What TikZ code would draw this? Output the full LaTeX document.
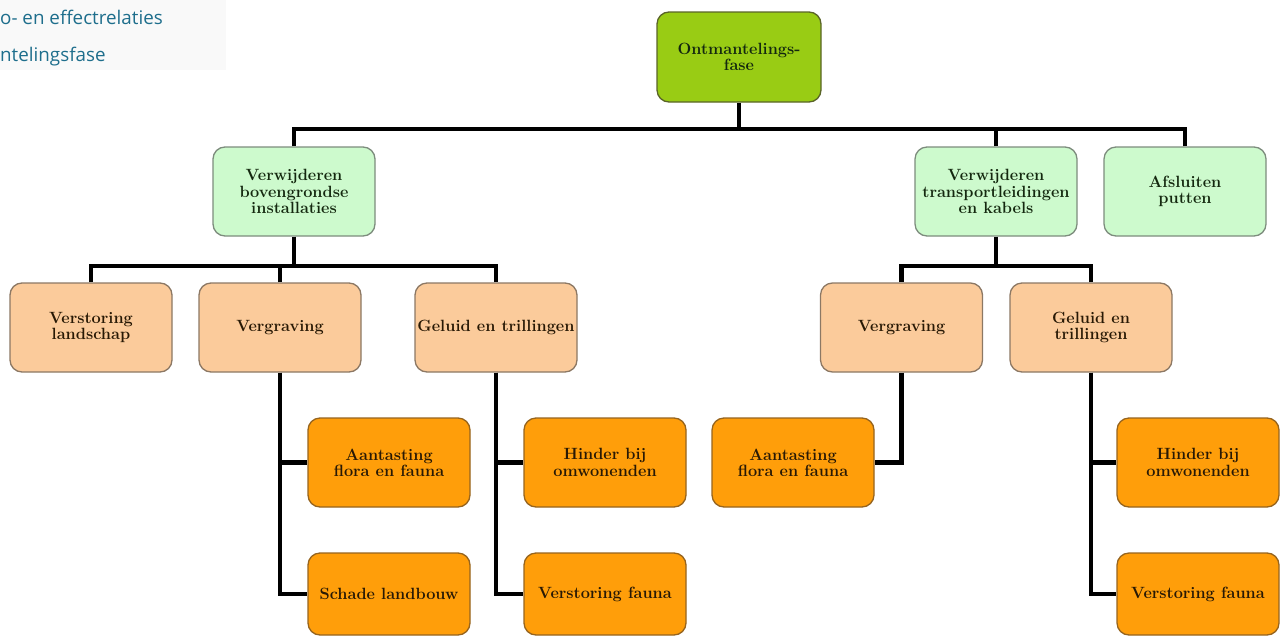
\documentclass[tikz,border=0pt]{standalone}
\usepackage{fontspec}
\newfontfamily\hdrfont{Open Sans}
\definecolor{topfill}{RGB}{153,204,20}
\definecolor{topdraw}{RGB}{90,100,40}
\definecolor{grfill}{RGB}{205,250,205}
\definecolor{grdraw}{RGB}{125,140,125}
\definecolor{pcfill}{RGB}{251,203,155}
\definecolor{pcdraw}{RGB}{140,120,100}
\definecolor{orfill}{RGB}{255,158,10}
\definecolor{ordraw}{RGB}{150,100,30}
\definecolor{txtdark}{RGB}{40,25,5}
\definecolor{txtgreen}{RGB}{20,40,15}
\definecolor{hdrcol}{RGB}{30,110,140}
\definecolor{hdrbg}{RGB}{249,249,249}
\tikzset{
  box/.style={rectangle, rounded corners=12pt, line width=1.3pt, align=center,
    minimum width=162pt, minimum height=89pt, inner sep=2pt,
    font=\bfseries\fontsize{16.3}{16.3}\selectfont},
  topbox/.style={box, fill=topfill, draw=topdraw, minimum width=164pt, minimum height=90pt, text=txtgreen},
  lvltwo/.style={box, fill=grfill, draw=grdraw, text=txtgreen},
  lvlthree/.style={box, fill=pcfill, draw=pcdraw, text=txtdark},
  lvlfour/.style={box, fill=orfill, draw=ordraw, text=txtdark},
  lvlfourb/.style={lvlfour, minimum height=82pt},
  conn/.style={line width=4.8pt, black, line join=miter},
  hdr/.style={anchor=base west, inner sep=0pt, text=hdrcol, font=\hdrfont\fontsize{18.8}{20}\selectfont}
}
\begin{document}
\begin{tikzpicture}[x=1pt,y=-1pt]
\useasboundingbox (0,0) rectangle (1284,637);
\fill[hdrbg] (0,0) rectangle (226,70);
\node[hdr] (h1) at (0,24) {o- en effectrelaties};
\node[hdr] (h2) at (0,61) {ntelingsfase};

\node[topbox] (top) at (739,57) {Ontmantelings-\\fase};

\node[lvltwo] (boven) at (294,191.5) {Verwijderen\\bovengrondse\\installaties};
\node[lvltwo] (trans) at (996,191.5) {Verwijderen\\transportleidingen\\en kabels};
\node[lvltwo] (afsl) at (1185,191.5) {Afsluiten\\putten};

\node[lvlthree] (verst) at (91,327.5) {Verstoring\\landschap};
\node[lvlthree] (verg) at (280,327.5) {Vergraving};
\node[lvlthree] (gel) at (496,327.5) {Geluid en trillingen};
\node[lvlthree] (vergR) at (901.5,327.5) {Vergraving};
\node[lvlthree] (gelR) at (1091,327.5) {Geluid en\\trillingen};

\node[lvlfour] (aant) at (389,462.5) {Aantasting\\flora en fauna};
\node[lvlfourb] (schade) at (389,594) {Schade landbouw};
\node[lvlfour] (hind) at (605,462.5) {Hinder bij\\omwonenden};
\node[lvlfourb] (vfau) at (605,594) {Verstoring fauna};
\node[lvlfour] (aantR) at (793,462.5) {Aantasting\\flora en fauna};
\node[lvlfour] (hindR) at (1198,462.5) {Hinder bij\\omwonenden};
\node[lvlfourb] (vfauR) at (1198,594) {Verstoring fauna};

\coordinate (bar1) at (739,129);
\coordinate (bar2) at (294,266);
\coordinate (bar3) at (996,266);

\draw[conn] (top.south) -- (bar1);
\draw[conn] (boven.north) |- (bar1);
\draw[conn] (afsl.north) |- (bar1);
\draw[conn] (trans.north) -- (trans.north |- bar1);

\draw[conn] (boven.south) -- (bar2);
\draw[conn] (verst.north) |- (bar2);
\draw[conn] (gel.north) |- (bar2);
\draw[conn] (verg.north) -- (verg.north |- bar2);

\draw[conn] (trans.south) -- (bar3);
\draw[conn] (vergR.north) |- (bar3);
\draw[conn] (gelR.north) |- (bar3);

\draw[conn] (verg.south) |- (aant.west);
\draw[conn] (verg.south) |- (schade.west);
\draw[conn] (gel.south) |- (hind.west);
\draw[conn] (gel.south) |- (vfau.west);
\draw[conn] (vergR.south) |- (aantR.east);
\draw[conn] (gelR.south) |- (hindR.west);
\draw[conn] (gelR.south) |- (vfauR.west);
\end{tikzpicture}
\end{document}
